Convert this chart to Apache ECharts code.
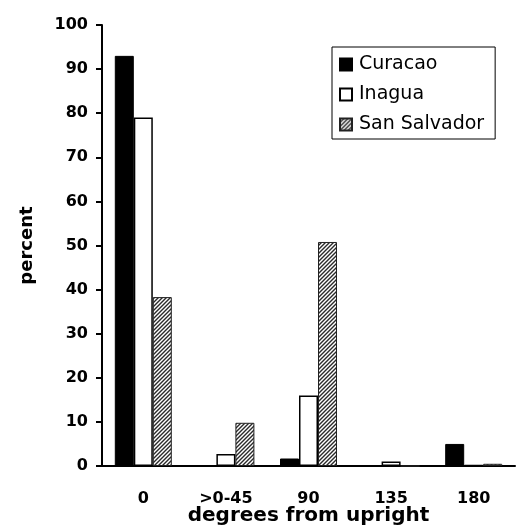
<!DOCTYPE html>
<html>
<head>
<meta charset="utf-8">
<style>
  html, body { margin: 0; padding: 0; background: #fff; }
  #chart { width: 517px; height: 529px; }
</style>
<script src="https://cdn.jsdelivr.net/npm/echarts@6/dist/echarts.min.js"></script>
</head>
<body>
<div id="chart"></div>
<script>
// categories and values
var categories = ['0', '>0-45', '90', '135', '180'];
var curacao = [93, 0, 1.7, 0, 5.0];
var inagua = [79, 2.7, 16, 1.0, 0.2];
var sanSalvador = [38.3, 9.8, 50.8, 0, 0.5];
var yTicks = { min: 0, max: 100, step: 10 };

// diagonal hatch for San Salvador
function hatch() {
    var c = document.createElement('canvas');
    c.width = 4; c.height = 4;
    var ctx = c.getContext('2d');
    ctx.fillStyle = '#ffffff';
    ctx.fillRect(0, 0, 4, 4);
    ctx.strokeStyle = '#2a2a2a';
    ctx.lineWidth = 1.4;
    ctx.beginPath();
    ctx.moveTo(0, 4); ctx.lineTo(4, 0);
    ctx.moveTo(-1, 1); ctx.lineTo(1, -1);
    ctx.moveTo(3, 5); ctx.lineTo(5, 3);
    ctx.stroke();
    return c;
}

var chart = echarts.init(document.getElementById('chart'));

var boldFont = { fontFamily: 'DejaVu Sans', fontWeight: 'bold', color: '#000' };

var option = {
    animation: false,
    backgroundColor: '#fff',
    grid: { left: 102, right: 2, top: 25, bottom: 63, outerBoundsMode: 'none', containLabel: false },
    legend: {
        orient: 'vertical',
        left: 332,
        top: 47,
        padding: [8, 11, 5, 7],
        itemGap: 11,
        itemWidth: 12,
        itemHeight: 12,
        icon: 'rect',
        borderColor: '#000',
        borderWidth: 1,
        textStyle: { fontFamily: 'DejaVu Sans', fontSize: 19, color: '#000', padding: [0, 0, 0, 2] },
        data: ['Curacao', 'Inagua', 'San Salvador']
    },
    xAxis: {
        type: 'category',
        data: categories,
        name: 'degrees from upright',
        nameLocation: 'middle',
        nameGap: 40,
        nameMoveOverlap: false,
        nameTextStyle: Object.assign({ fontSize: 20 }, boldFont),
        axisLine: { lineStyle: { color: '#000', width: 2 } },
        axisTick: { length: 6, lineStyle: { color: '#000', width: 2 } },
        axisLabel: Object.assign({ fontSize: 16, margin: 25 }, boldFont)
    },
    yAxis: {
        type: 'value',
        min: yTicks.min,
        max: yTicks.max,
        interval: yTicks.step,
        name: 'percent',
        nameLocation: 'middle',
        nameGap: 66,
        nameMoveOverlap: false,
        nameTextStyle: Object.assign({ fontSize: 18 }, boldFont),
        splitLine: { show: false },
        axisLine: { show: true, lineStyle: { color: '#000', width: 2 } },
        axisTick: { show: true, length: 6, lineStyle: { color: '#000', width: 2 } },
        axisLabel: Object.assign({ fontSize: 16, margin: 14 }, boldFont)
    },
    series: [
        {
            name: 'Curacao',
            type: 'bar',
            data: curacao,
            barWidth: 19,
            barGap: 0,
            itemStyle: { color: '#000', borderColor: '#000', borderWidth: 1 }
        },
        {
            name: 'Inagua',
            type: 'bar',
            data: inagua,
            barWidth: 19,
            barGap: 0,
            itemStyle: { color: '#fff', borderColor: '#000', borderWidth: 1.5 }
        },
        {
            name: 'San Salvador',
            type: 'bar',
            data: sanSalvador,
            barWidth: 19,
            barGap: 0,
            itemStyle: { color: { image: hatch(), repeat: 'repeat' }, borderColor: '#222', borderWidth: 1 }
        }
    ]
};

chart.setOption(option);
</script>
</body>
</html>
